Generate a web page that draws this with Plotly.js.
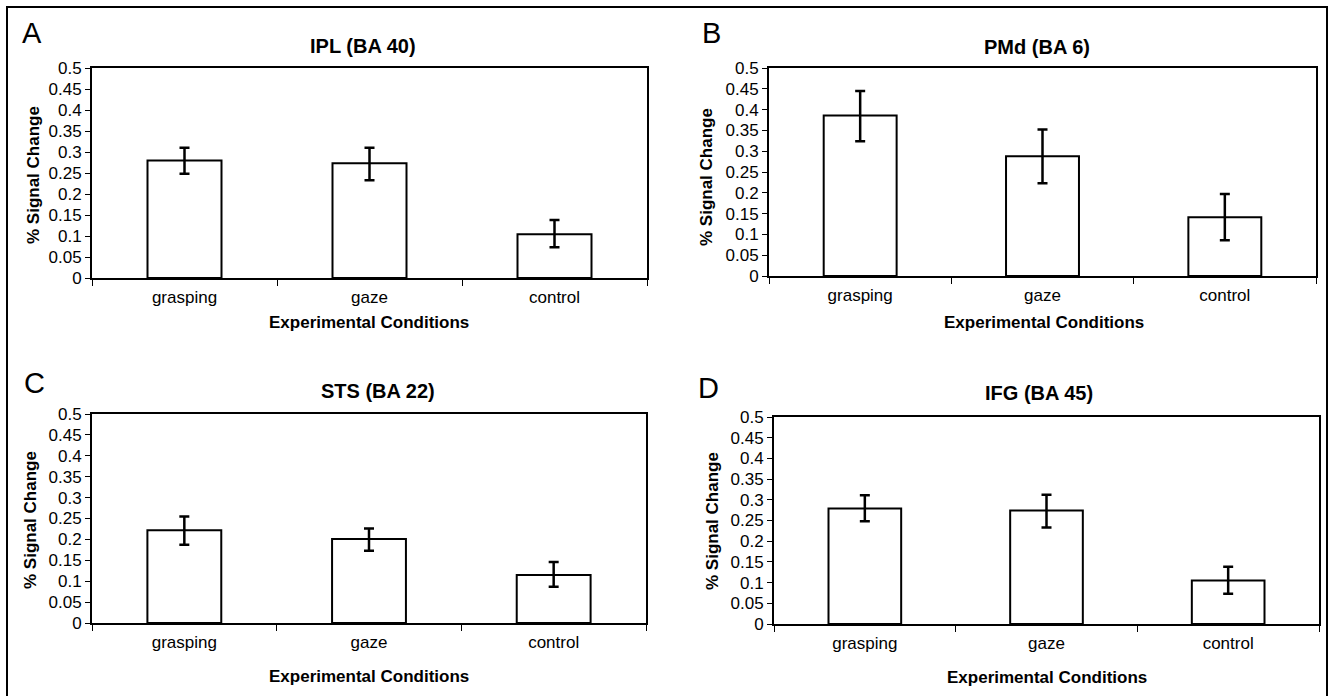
<!DOCTYPE html>
<html>
<head>
<meta charset="utf-8">
<script src="https://cdn.plot.ly/plotly-3.0.1.min.js"></script>
<style>
  html, body { margin: 0; padding: 0; background: #ffffff; }
  #chart { width: 1328px; height: 696px; }
</style>
</head>
<body>
<div id="chart"></div>
<script>
// ---- data ----
var conditions = ["grasping", "gaze", "control"];

var iplMeans = [0.280, 0.273, 0.104];
var iplErrPlus = [0.030, 0.037, 0.034];
var iplErrMinus = [0.032, 0.040, 0.031];

var pmdMeans = [0.386, 0.288, 0.141];
var pmdErrPlus = [0.059, 0.064, 0.056];
var pmdErrMinus = [0.062, 0.065, 0.055];

var stsMeans = [0.222, 0.201, 0.115];
var stsErrPlus = [0.033, 0.025, 0.031];
var stsErrMinus = [0.035, 0.028, 0.028];

var ifgMeans = [0.279, 0.274, 0.105];
var ifgErrPlus = [0.032, 0.038, 0.033];
var ifgErrMinus = [0.031, 0.041, 0.032];

var panelLetters = ["A", "B", "C", "D"];
var panelTitles = ["IPL (BA 40)", "PMd (BA 6)", "STS (BA 22)", "IFG (BA 45)"];
var xTitle = "Experimental Conditions";
var yTitle = "% Signal Change";

// ---- layout helpers ----
var W = 1328, H = 696;
function px(x) { return x / W; }
function py(y) { return 1 - y / H; }

var FONT = "Liberation Sans, Arial, Helvetica, sans-serif";

// plot boxes in pixels: [left, right, top, bottom]
var boxes = [
  [92, 647, 68, 278],
  [769, 1316, 68, 276],
  [92, 646, 414, 623],
  [774, 1319, 417, 624]
];
var letterPos = [[32, 33], [711, 33], [34, 383], [708, 388]];
var titlePos = [[363, 46], [1037, 47], [378, 391], [1039, 393]];
var xTitlePos = [[369, 322], [1044, 322], [369, 676], [1047, 677]];
var yTitlePos = [[34, 175], [706, 177], [30, 520], [712, 521]];

var means = [iplMeans, pmdMeans, stsMeans, ifgMeans];
var plus = [iplErrPlus, pmdErrPlus, stsErrPlus, ifgErrPlus];
var minus = [iplErrMinus, pmdErrMinus, stsErrMinus, ifgErrMinus];

var traces = [];
var layout = {
  width: W, height: H,
  margin: {l: 0, r: 0, t: 0, b: 0},
  paper_bgcolor: "#ffffff",
  plot_bgcolor: "#ffffff",
  showlegend: false,
  bargap: 0.6,
  font: {family: FONT, color: "#000000"},
  annotations: [],
  shapes: [
    {type: "rect", xref: "paper", yref: "paper",
     x0: px(7), x1: px(1327), y0: py(710), y1: py(7),
     line: {color: "#000000", width: 2}, fillcolor: "rgba(0,0,0,0)", layer: "below"}
  ]
};

for (var i = 0; i < 4; i++) {
  var sfx = i === 0 ? "" : String(i + 1);
  traces.push({
    type: "bar",
    x: conditions,
    y: means[i],
    xaxis: "x" + sfx,
    yaxis: "y" + sfx,
    marker: {color: "#ffffff", line: {color: "#000000", width: 2}},
    error_y: {type: "data", symmetric: false, array: plus[i], arrayminus: minus[i],
              color: "#000000", thickness: 2.5, width: 5},
    hoverinfo: "skip"
  });
  var b = boxes[i];
  layout["xaxis" + sfx] = {
    domain: [px(b[0]), px(b[1])],
    anchor: "y" + sfx,
    type: "category",
    showline: true, mirror: true, linecolor: "#000000", linewidth: 2,
    ticks: "outside", tickson: "boundaries", ticklen: 6, tickwidth: 1, tickcolor: "#000000",
    ticklabelstandoff: 3,
    tickfont: {family: FONT, size: 17, color: "#000000"},
    showgrid: false, zeroline: false, fixedrange: true
  };
  layout["yaxis" + sfx] = {
    domain: [py(b[3]), py(b[2])],
    anchor: "x" + sfx,
    range: [0, 0.5], tick0: 0, dtick: 0.05,
    showline: true, mirror: true, linecolor: "#000000", linewidth: 2,
    ticks: "outside", ticklen: 5, tickwidth: 1, tickcolor: "#000000",
    tickfont: {family: FONT, size: 17, color: "#000000"},
    showgrid: false, zeroline: false, fixedrange: true
  };
  layout.annotations.push(
    {text: panelLetters[i], xref: "paper", yref: "paper", x: px(letterPos[i][0]), y: py(letterPos[i][1]),
     xanchor: "center", yanchor: "middle", showarrow: false, font: {family: FONT, size: 29, color: "#000000"}},
    {text: "<b>" + panelTitles[i] + "</b>", xref: "paper", yref: "paper", x: px(titlePos[i][0]), y: py(titlePos[i][1]),
     xanchor: "center", yanchor: "middle", showarrow: false, font: {family: FONT, size: 20, color: "#000000"}},
    {text: "<b>" + xTitle + "</b>", xref: "paper", yref: "paper", x: px(xTitlePos[i][0]), y: py(xTitlePos[i][1]),
     xanchor: "center", yanchor: "middle", showarrow: false, font: {family: FONT, size: 17, color: "#000000"}},
    {text: "<b>" + yTitle + "</b>", xref: "paper", yref: "paper", x: px(yTitlePos[i][0]), y: py(yTitlePos[i][1]),
     xanchor: "center", yanchor: "middle", textangle: -90, showarrow: false, font: {family: FONT, size: 17, color: "#000000"}}
  );
}

Plotly.newPlot("chart", traces, layout, {displayModeBar: false, staticPlot: true});
</script>
</body>
</html>
